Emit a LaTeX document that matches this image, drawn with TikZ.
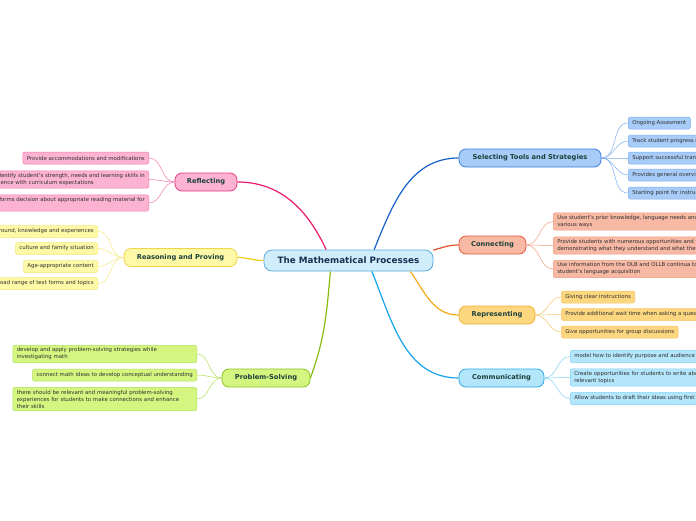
\documentclass[tikz,border=0pt]{standalone}
\usepackage{fontspec}
\setmainfont{DejaVu Sans}
\definecolor{cmpfill}{HTML}{CFEDFB}
\definecolor{cmpdraw}{HTML}{5AADE0}
\definecolor{cmptext}{HTML}{1C2E52}
\definecolor{labeltext}{HTML}{1C403A}
\definecolor{leaftext}{HTML}{303030}
\definecolor{selfill}{HTML}{A8CCF8}
\definecolor{seldraw}{HTML}{3A7FE0}
\definecolor{selline}{HTML}{1660C8}
\definecolor{selleaf}{HTML}{7DAEF2}
\definecolor{confill}{HTML}{F7B9A4}
\definecolor{condraw}{HTML}{E65A3C}
\definecolor{conline}{HTML}{E4502A}
\definecolor{conleaf}{HTML}{F29C82}
\definecolor{repfill}{HTML}{FDD680}
\definecolor{repdraw}{HTML}{F2B233}
\definecolor{repline}{HTML}{F5A815}
\definecolor{repleaf}{HTML}{F6C768}
\definecolor{comfill}{HTML}{B3E5FB}
\definecolor{comdraw}{HTML}{2AAAE4}
\definecolor{comline}{HTML}{14A4E8}
\definecolor{comleaf}{HTML}{7ED0F6}
\definecolor{reffill}{HTML}{FCB3D1}
\definecolor{refdraw}{HTML}{E83A84}
\definecolor{refline}{HTML}{E81A6E}
\definecolor{refleaf}{HTML}{F07CB2}
\definecolor{reafill}{HTML}{FDF9A6}
\definecolor{readraw}{HTML}{EBD748}
\definecolor{realine}{HTML}{EFCC12}
\definecolor{realeaf}{HTML}{F4EA80}
\definecolor{profill}{HTML}{D4F680}
\definecolor{prodraw}{HTML}{8DC31E}
\definecolor{proline}{HTML}{84BD10}
\definecolor{proleaf}{HTML}{B2E057}
\tikzset{
  branch/.style={draw=#1draw, fill=#1fill, rounded corners=7pt, line width=0.8pt,
    minimum height=18pt, inner xsep=6pt, text=labeltext,
    font=\bfseries\fontsize{6.7}{8}\selectfont},
  leaf/.style={draw=#1leaf, fill=#1fill, rounded corners=2pt, line width=0.5pt,
    minimum height=12pt, inner xsep=4pt, inner ysep=2.5pt, align=left, text=leaftext,
    font=\fontsize{5.4}{7}\selectfont},
  trunk/.style={draw=#1line, line width=1.2pt},
  twig/.style={draw=#1leaf, line width=0.5pt}
}
\begin{document}
\begin{tikzpicture}[x=1pt,y=1pt]
\useasboundingbox (0,0) rectangle (696,-520);
\clip (0,0) rectangle (696,-520);
\fill[white] (0,0) rectangle (696,-520);

% main topic
\node[draw=cmpdraw,fill=cmpfill,rounded corners=8pt,line width=0.8pt,minimum width=169pt,
  minimum height=21pt,text=cmptext,font=\bfseries\fontsize{8.8}{10}\selectfont]
  (cmp) at (348.5,-260.5) {The Mathematical Processes};

% branches
\node[branch=sel,minimum width=142pt] (sel) at (530,-158) {Selecting Tools and Strategies};
\node[branch=con,minimum width=67pt] (con) at (492.5,-245) {Connecting};
\node[branch=rep,minimum width=76pt] (rep) at (497,-315) {Representing};
\node[branch=com,minimum width=85pt] (com) at (501.5,-378) {Communicating};
\node[branch=ref,minimum width=62pt] (ref) at (206,-182) {Reflecting};
\node[branch=rea,minimum width=113pt] (rea) at (180.5,-257.5) {Reasoning and Proving};
\node[branch=pro,minimum width=88pt] (pro) at (266,-378) {Problem-Solving};

\draw[trunk=sel] (cmp.23) to[out=68,in=180] (sel.west);
\draw[trunk=con] (cmp.7.7) to[out=15,in=180] (con.west);
\draw[trunk=rep] (cmp.-10.4) to[out=-55,in=180] (rep.west);
\draw[trunk=com] (cmp.-25.5) to[out=-68,in=180] (com.west);
\draw[trunk=ref] (cmp.154.5) to[out=115,in=0] (ref.east);
\draw[trunk=rea] (cmp.west) to[out=180,in=0] (rea.east);
\draw[trunk=pro] (cmp.211.7) to[out=-95,in=70] (pro.east);

% Selecting Tools and Strategies
\foreach \y/\t [count=\i] in {-123/{Ongoing Assesment},
    -141/{Track student progress over time},
    -158/{Support successful transitions},
    -175/{Provides general overview of learning},
    -193/{Starting point for instruction}} {
  \node[leaf=sel,anchor=west] (sel\i) at (628,\y) {\t};
  \draw[twig=sel] (sel.east) to[out=0,in=180] (sel\i.west);
}

% Connecting
\foreach \y/\t [count=\i] in {-221.5/{Use student's prior knowledge, language needs and interests in\\various ways},
    -245.5/{Provide students with numerous opportunities and ways of\\demonstrating what they understand and what they can do},
    -269/{Use information from the OLB and OLLB continua to monitor\\student's language acquisition}} {
  \node[leaf=con,anchor=west] (con\i) at (553,\y) {\t};
  \draw[twig=con] (con.east) to[out=0,in=180] (con\i.west);
}

% Representing
\foreach \y/\t [count=\i] in {-297/{Giving clear instructions},
    -314.5/{Provide additional wait time when asking a question},
    -332/{Give opportunities for group discussions}} {
  \node[leaf=rep,anchor=west] (rep\i) at (561,\y) {\t};
  \draw[twig=rep] (rep.east) to[out=0,in=180] (rep\i.west);
}

% Communicating
\foreach \y/\t [count=\i] in {-356.5/{model how to identify purpose and audience},
    -377.5/{Create opportunities for students to write about\\relevant topics},
    -398.5/{Allow students to draft their ideas using first language}} {
  \node[leaf=com,anchor=west] (com\i) at (570,\y) {\t};
  \draw[twig=com] (com.east) to[out=0,in=180] (com\i.west);
}

% Reflecting
\foreach \y/\t [count=\i] in {-158/{Provide accommodations and modifications},
    -179.5/{Carefully identify student's strength, needs and learning skills in\\correspondence with curriculum expectations},
    -203/{It informs decision about appropriate reading material for\\all}} {
  \node[leaf=ref,anchor=east] (ref\i) at (149,\y) {\t};
  \draw[twig=ref] (ref.west) to[out=180,in=0] (ref\i.east);
}

% Reasoning and Proving
\foreach \y/\t [count=\i] in {-231.5/{Considers student's background, knowledge and experiences},
    -248.5/{culture and family situation},
    -266.5/{Age-appropriate content},
    -283.5/{Provides a broad range of text forms and topics}} {
  \node[leaf=rea,anchor=east] (rea\i) at (98,\y) {\t};
  \draw[twig=rea] (rea.west) to[out=180,in=0] (rea\i.east);
}

% Problem-Solving
\node[leaf=pro,anchor=east,text width=176pt] (pro1) at (197,-354)
  {develop and apply problem-solving strategies while\\investigating math};
\node[leaf=pro,anchor=east] (pro2) at (197,-375) {connect math ideas to develop conceptual understanding};
\node[leaf=pro,anchor=east,text width=176pt] (pro3) at (197,-399)
  {there should be relevant and meaningful problem-solving\\experiences for students to make connections and enhance\\their skills};
\foreach \i in {1,2,3}
  \draw[twig=pro] (pro.west) to[out=180,in=0] (pro\i.east);
\end{tikzpicture}
\end{document}
